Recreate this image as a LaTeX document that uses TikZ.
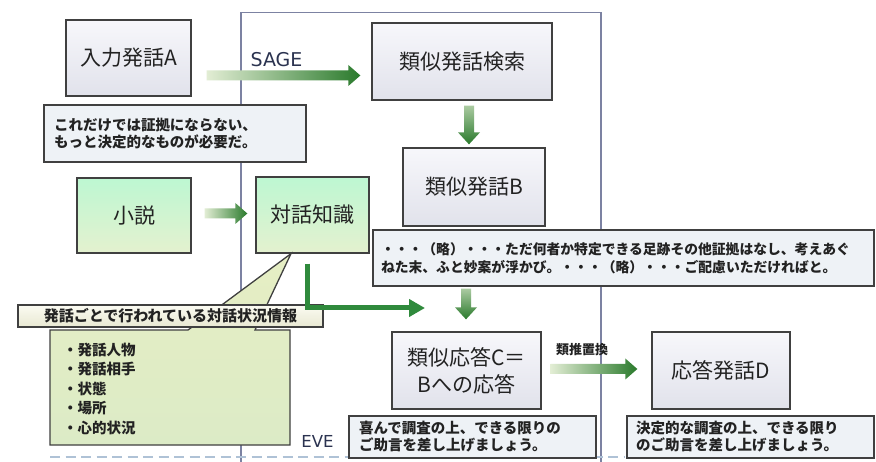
\documentclass[tikz,border=0pt]{standalone}
\usepackage{fontspec}
\setmainfont{Noto Sans CJK JP}
\newfontfamily\latinf{DejaVu Sans}
\usetikzlibrary{arrows.meta,calc}
\definecolor{boxT}{HTML}{F7F7FB}
\definecolor{boxB}{HTML}{E1E2EB}
\definecolor{grnT}{HTML}{BDF7D2}
\definecolor{grnB}{HTML}{E4F1CF}
\definecolor{noteF}{HTML}{EEF2F6}
\definecolor{frameC}{HTML}{7C82A2}
\definecolor{dashC}{HTML}{AFC2D6}
\definecolor{arrL}{HTML}{E2EDD4}
\definecolor{arrD}{HTML}{2A7A2C}
\definecolor{lineG}{HTML}{2F8A3C}
\definecolor{callT}{HTML}{E6EEC4}
\definecolor{callB}{HTML}{DCEBC6}
\definecolor{labT}{HTML}{FBFBF2}
\definecolor{labB}{HTML}{E8E8D2}
\definecolor{txt}{HTML}{222222}
\definecolor{latC}{HTML}{2B3350}
\newcommand\harr[2]{\shade[left color=arrL,right color=arrD] let \p1=(#1),\p2=(#2) in (\x1,\y1+5pt) -- (\x2-12pt,\y1+5pt) -- (\x2-12pt,\y1+10.5pt) -- (\x2,\y1) -- (\x2-12pt,\y1-10.5pt) -- (\x2-12pt,\y1-5pt) -- (\x1,\y1-5pt) -- cycle;}
\newcommand\varr[2]{\shade[top color=arrL!70!arrD,bottom color=arrD] let \p1=(#1),\p2=(#2) in (\x1-5pt,\y1) -- (\x1-5pt,\y2+12pt) -- (\x1-11pt,\y2+12pt) -- (\x1,\y2) -- (\x1+11pt,\y2+12pt) -- (\x1+5pt,\y2+12pt) -- (\x1+5pt,\y1) -- cycle;}
\begin{document}
\begin{tikzpicture}[x=1pt,y=-1pt,
  mainbox/.style={draw=black!75, line width=1.3pt, top color=boxT, bottom color=boxB, align=center, inner sep=0pt, text=txt, font=\fontsize{21}{27}\selectfont},
  greenbox/.style={mainbox, top color=grnT, bottom color=grnB},
  notebox/.style={draw=black!75, line width=1.3pt, fill=noteF, align=left, inner ysep=0pt, text=txt, font=\bfseries\fontsize{14.5}{17}\selectfont},
  labelbox/.style={draw=black!75, line width=1.3pt, top color=labT, bottom color=labB, inner sep=0pt, text=txt, font=\bfseries\fontsize{15}{15}\selectfont},
  listtext/.style={align=left, inner sep=0pt, text=txt, font=\bfseries\fontsize{14.5}{19.5}\selectfont},
  smalllab/.style={inner sep=0pt, text=txt, font=\bfseries\fontsize{13}{13}\selectfont},
  latlab/.style={inner sep=0pt, text=latC}
]
\useasboundingbox (0,0) rectangle (876,462);
\fill[white] (0,0) rectangle (876,462);
% EVE frame and dashed line
\draw[frameC, line width=1.5pt] (241,462) -- (241,12.5) -- (601,12.5) -- (601,462);
\draw[dashC, line width=2pt, dash pattern=on 10pt off 5.5pt] (50,457) -- (625,457);

% main boxes
\node[mainbox, minimum width=125pt, minimum height=76pt] (inA) at (128.5,58) {入力発話A};
\node[mainbox, minimum width=180pt, minimum height=77pt] (search) at (462,61.5) {類似発話検索};
\node[mainbox, minimum width=142pt, minimum height=78pt] (simB) at (474,187) {類似発話B};
\node[greenbox, minimum width=114pt, minimum height=75pt] (novel) at (134,215.5) {小説};
\node[greenbox, minimum width=113pt, minimum height=76pt] (know) at (312.5,215) {対話知識};
\node[mainbox, minimum width=149pt, minimum height=77pt] (simC) at (466.5,370.5) {類似応答C＝\\Bへの応答};
\node[mainbox, minimum width=138pt, minimum height=77pt] (outD) at (721,370.5) {応答発話D};

% notes
\node[notebox, text width=242pt, inner xsep=10pt, minimum height=57pt] (n1) at (175,133.5) {これだけでは証拠にならない、\\もっと決定的なものが必要だ。};
\node[notebox, font=\bfseries\fontsize{13.8}{18}\selectfont, text width=485pt, inner xsep=8pt, minimum height=56pt] (n2) at (623.5,258) {・・・（略）・・・ただ何者か特定できる足跡その他証拠はなし、考えあぐ\\ねた末、ふと妙案が浮かび。・・・（略）・・・ご配慮いただければと。};
\node[notebox, text width=227pt, inner xsep=10pt, minimum height=42pt] (n3) at (472.5,437) {喜んで調査の上、できる限りの\\ご助言を差し上げましょう。};
\node[notebox, text width=229pt, inner xsep=9pt, minimum height=42pt] (n4) at (750.5,437) {決定的な調査の上、できる限り\\のご助言を差し上げましょう。};

% callout
\coordinate (tip) at ($(know.south)+(-21.5,0)$);
\draw[draw=black!75, line width=1.3pt, top color=callT, bottom color=callB] (50,330) -- (188,330) -- (tip) -- (255,330) -- (290,330) -- (290,445) -- (50,445) -- cycle;
\node[labelbox, minimum width=305pt, minimum height=22pt] (lab) at (170.5,316) {発話ごとで行われている対話状況情報};
\node[listtext, anchor=west] (list) at (63,389) {・発話人物\\・発話相手\\・状態\\・場所\\・心的状況};

% block arrows
\coordinate (s1) at ($(inA.east)+(15,17.5)$);
\coordinate (e1) at ($(search.west)+(-11,14)$);
\harr{s1}{e1}
\coordinate (s2) at ($(novel.east)+(13,-2)$);
\coordinate (e2) at ($(know.west)+(-8,-1.5)$);
\harr{s2}{e2}
\coordinate (s3) at ($(search.south)+(7,5)$);
\coordinate (e3) at ($(simB.north)+(-5,-3)$);
\varr{s3}{e3}
\coordinate (s4) at ($(n2.south)+(-157.5,2)$);
\coordinate (e4) at ($(simC.north)+(-0.5,-12)$);
\varr{s4}{e4}
\coordinate (s5) at ($(simC.east)+(9,-1.5)$);
\coordinate (e5) at ($(outD.west)+(-14,-1.5)$);
\harr{s5}{e5}

% green L connector
\coordinate (kstart) at ($(know.south)+(-5.5,10)$);
\coordinate (kend) at (425,308);
\draw[lineG, line width=5pt, -{Triangle[length=16pt,width=17pt]}] (kstart) |- (kend);

% labels
\node[latlab, font=\latinf\fontsize{19}{19}\selectfont] (sage) at (276.5,60) {SAGE};
\node[latlab, font=\latinf\fontsize{16.5}{16.5}\selectfont] (eve) at (317.5,441) {EVE};
\node[smalllab] (ruisui) at (582,350) {類推置換};
\end{tikzpicture}
\end{document}
